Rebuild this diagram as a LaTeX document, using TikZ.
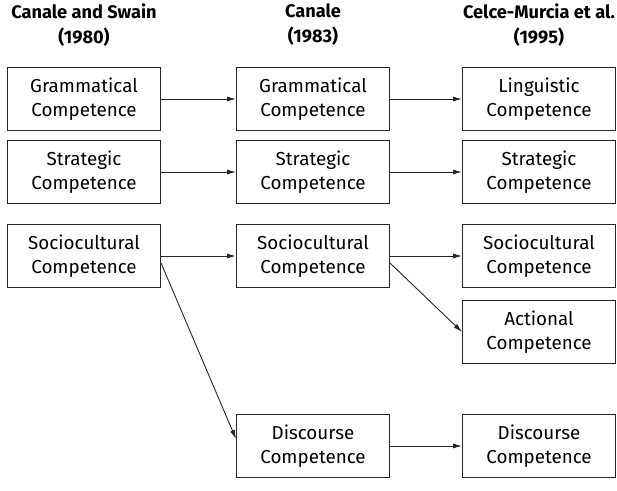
\documentclass[tikz,border=0pt]{standalone}
\usepackage{fontspec}
\setmainfont{Fira Sans}
\usetikzlibrary{arrows.meta}
\begin{document}
\begin{tikzpicture}[x=1pt,y=-1pt,
  box/.style={draw=black!85,line width=1pt,minimum width=153pt,minimum height=63pt,
    align=center,inner sep=0pt,font=\fontsize{18.8}{24}\selectfont},
  head/.style={align=center,font=\bfseries\fontsize{18.2}{25}\selectfont},
  link/.style={draw=black!85,line width=0.9pt,-{Latex[length=9pt,width=5pt]}}]
\useasboundingbox (0,0) rectangle (617,490);
% column headings
\node[head] (h1) at (84,25) {Canale and Swain\\(1980)};
\node[head] (h2) at (313,25) {Canale\\(1983)};
\node[head] (h3) at (539,25) {Celce-Murcia et al.\\(1995)};
% first column
\node[box] (a1) at (84,99) {Grammatical\\Competence};
\node[box] (a2) at (84,172) {Strategic\\Competence};
\node[box] (a3) at (84,256) {Sociocultural\\Competence};
% second column
\node[box] (b1) at (313,99) {Grammatical\\Competence};
\node[box] (b2) at (313,172) {Strategic\\Competence};
\node[box] (b3) at (313,256) {Sociocultural\\Competence};
\node[box] (b5) at (313,446) {Discourse\\Competence};
% third column
\node[box] (c1) at (539,99) {Linguistic\\Competence};
\node[box] (c2) at (539,172) {Strategic\\Competence};
\node[box] (c3) at (539,256) {Sociocultural\\Competence};
\node[box] (c4) at (539,332) {Actional\\Competence};
\node[box] (c5) at (539,446) {Discourse\\Competence};
% connectors
\draw[link] (a1) -- (b1);
\draw[link] (b1) -- (c1);
\draw[link] (a2) -- (b2);
\draw[link] (b2) -- (c2);
\draw[link] (a3) -- (b3);
\draw[link] (b3) -- (c3);
\draw[link] ([yshift=-7pt]a3.east) -- ([yshift=7pt]b5.west);
\draw[link] ([yshift=-7pt]b3.east) -- (c4.west);
\draw[link] (b5) -- (c5);
\end{tikzpicture}
\end{document}
